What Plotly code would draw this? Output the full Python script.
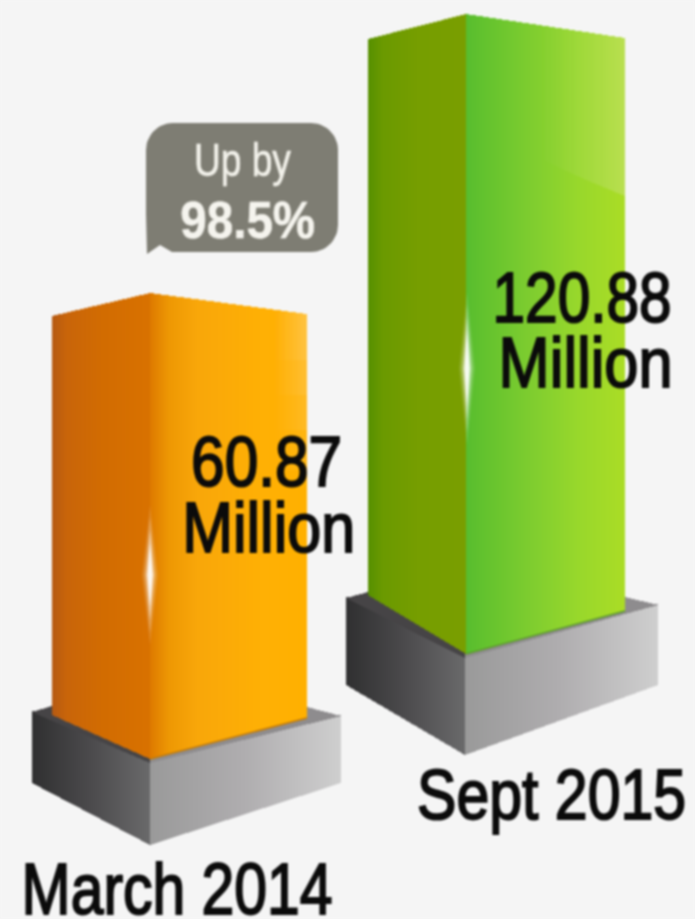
import json
import numpy as np
import plotly.graph_objects as go

# ---- data ----
periods = ["March 2014", "Sept 2015"]
subscribers_million = [60.87, 120.88]
growth_label = ["Up by", "98.5%"]
unit_label = "Million"

# ---- canvas / scale ----
W, H = 695, 919
BG = "#f5f5f5"
PX_PER_UNIT = (293 - 14) / (subscribers_million[1] - subscribers_million[0])
def val(py):
    return subscribers_million[0] + (293 - np.asarray(py, float)) / PX_PER_UNIT

# ---- geometry and colour of each column (pixels) ----
columns = [
    dict(xl=52, xa=150, xr=307, drop_l=23, drop_r=21, bot_l=715, bot_a=759, bot_r=718,
         left=[(0, "#b65a12"), (.15, "#c9650a"), (.5, "#d26c02"), (1, "#d97200")],
         right=[(0, "#de7a00"), (.12, "#ee9804"), (.3, "#f9a70a"), (.7, "#ffb005"), (1, "#ffb000")],
         ped=dict(xl=32, xa=150, xr=341, top_l=712, top_a=763, top_r=716, bot_l=783, bot_a=845, bot_r=783,
                  back_l=706, back_r=707)),
    dict(xl=368, xa=466, xr=625, drop_l=25, drop_r=24, bot_l=595, bot_a=654, bot_r=611,
         left=[(0, "#569000"), (.15, "#6b9a00"), (.5, "#769e00"), (1, "#7a9f00")],
         right=[(0, "#58bd2e"), (.1, "#62c22e"), (.4, "#7ecd30"), (.7, "#98d82c"), (1, "#abdd26")],
         ped=dict(xl=346, xa=465, xr=658, top_l=598, top_a=658, top_r=605, bot_l=685, bot_a=755, bot_r=685,
                  back_l=592, back_r=597)),
]

def hex2rgb(h):
    return np.array([int(h[i:i + 2], 16) for i in (1, 3, 5)], float)

def ramp(stops, t):
    ts = [s[0] for s in stops]
    cs = np.array([hex2rgb(s[1]) for s in stops])
    return ["rgb(%d,%d,%d)" % tuple(np.interp(u, ts, cs[:, k]) for k in range(3)) for u in t]

def slices(xs, tops, bots, color, opacity=None):
    marker = dict(color=color, line=dict(width=0))
    if opacity is not None:
        marker["opacity"] = opacity
    return go.Bar(x=xs, y=val(tops) - val(bots), base=val(bots), width=1.0, marker=marker,
                  hoverinfo="skip", showlegend=False)

def face(x0, x1, top0, top1, bot0, bot1, stops):
    xs = np.arange(x0, x1) + 0.5
    t = (xs - x0) / (x1 - x0)
    return slices(xs, top0 + (top1 - top0) * t, bot0 + (bot1 - bot0) * t, ramp(stops, t))

def poly(xs, ys, color, opacity=1.0):
    return go.Scatter(x=xs, y=val(ys), mode="lines", fill="toself", fillcolor=color,
                      line=dict(width=0), opacity=opacity, hoverinfo="skip", showlegend=False)

fig = go.Figure()

for value, c in zip(subscribers_million, columns):
    p = c["ped"]
    top_px = 293 - (value - subscribers_million[0]) * PX_PER_UNIT
    # plinth: upper surface (hidden part runs behind the column), then both visible sides
    xs = np.arange(p["xl"], p["xa"]) + 0.5
    fig.add_trace(slices(xs, np.interp(xs, [p["xl"], c["xl"], c["xa"]], [p["top_l"], p["back_l"], c["bot_a"] - 60]),
                         np.interp(xs, [p["xl"], p["xa"]], [p["top_l"], p["top_a"]]), "#464446"))
    xs = np.arange(p["xa"], p["xr"]) + 0.5
    fig.add_trace(slices(xs, np.interp(xs, [p["xa"], c["xr"], p["xr"]], [c["bot_a"] - 60, p["back_r"], p["top_r"]]),
                         np.interp(xs, [p["xa"], p["xr"]], [p["top_a"], p["top_r"]]), "#8e8c8e"))
    fig.add_trace(face(p["xl"], p["xa"], p["top_l"], p["top_a"], p["bot_l"], p["bot_a"],
                       [(0, "#303031"), (.5, "#4c4b4d"), (1, "#6a6a6b")]))
    fig.add_trace(face(p["xa"], p["xr"], p["top_a"], p["top_r"], p["bot_a"], p["bot_r"],
                       [(0, "#9a9a9a"), (.5, "#b0aeb0"), (1, "#cfcfcf")]))
    # column: two faces, top edge falls away from the front corner
    fig.add_trace(face(c["xl"], c["xa"], top_px + c["drop_l"], top_px, c["bot_l"], c["bot_a"], c["left"]))
    fig.add_trace(face(c["xa"], c["xr"], top_px, top_px + c["drop_r"], c["bot_a"], c["bot_r"], c["right"]))

# seam along the foot of each column
for c, col in zip(columns, ["#c27a08", "#5d9a2c"]):
    fig.add_trace(go.Scatter(x=[c["xa"], c["xr"]], y=val([c["bot_a"], c["bot_r"]]),
                             mode="lines", line=dict(color=col, width=1.5),
                             hoverinfo="skip", showlegend=False))

# glossy sheen on the upper right of the columns
g = columns[1]
xs = np.arange(545, g["xr"]) + 0.5
t = (xs - 545) / (g["xr"] - 545)
fig.add_trace(slices(xs, 14 + g["drop_r"] * (xs - g["xa"]) / (g["xr"] - g["xa"]), 160 + 36 * t ** 0.9,
                     "#e8e8d8", 0.02 + 0.22 * t ** 1.4))
o = columns[0]
for end in (360, 395, 430, 470):
    xs = np.arange(272, o["xr"]) + 0.5
    t = (xs - 272) / (o["xr"] - 272)
    fig.add_trace(slices(xs, 293 + o["drop_r"] * (xs - o["xa"]) / (o["xr"] - o["xa"]), np.full_like(xs, end),
                         "white", 0.07 * t))

# white glints on the front corners
for cx, y0, y1 in [(150, 505, 645), (467, 292, 445)]:
    ym = (y0 + y1) / 2
    for hw, shrink, op in [(8, 0, .12), (6, 12, .22), (4, 25, .45), (2.5, 38, .85)]:
        fig.add_trace(poly([cx, cx + hw, cx, cx - hw, cx],
                           [y0 + shrink, ym, y1 - shrink, ym, y0 + shrink], "white", op))

# speech bubble
def arc(cx, cy, r, a0, a1, n=14):
    a = np.radians(np.linspace(a0, a1, n))
    return cx + r * np.cos(a), cy + r * np.sin(a)
bl, bt, br, bb, r = 146, 123, 338, 252, 27
a1, a2, a3 = arc(br - r, bt + r, r, -90, 0), arc(br - r, bb - r, r, 0, 90), arc(bl + r, bt + r, r, 180, 270)
bx = np.concatenate([a1[0], a2[0], [172, 160, 147, 146], a3[0]])
by = np.concatenate([a1[1], a2[1], [252, 245, 254, 214], a3[1]])
fig.add_trace(poly(bx, by, "#7e7d73"))

# labels: text, centre x, centre y, font size, drawn width, outline weight, colour, font weight
label_widths, label_strokes = [], []
def label(text, cx, cy, size, width, stroke=2.0, color="#0b0b0b", weight=400):
    label_widths.append(width)
    label_strokes.append(stroke)
    fig.add_annotation(x=cx, y=val(cy), text=text, showarrow=False, xanchor="center", yanchor="middle",
                       font=dict(family="Liberation Sans, sans-serif", size=size, color=color, weight=weight))

label(f"{subscribers_million[0]:.2f}", 266, 462, 70, 151)
label(unit_label, 268, 527, 71, 173)
label(f"{subscribers_million[1]:.2f}", 582, 298, 70, 179)
label(unit_label, 585, 362, 71, 174)
label(periods[0], 177, 889, 72, 311)
label(periods[1], 551, 795, 70, 269)
label(growth_label[0], 242, 159, 47, 97, 0.6, "#f2f1ea")
label(growth_label[1], 247, 220, 52, 135, 0.6, "#f5f4ee", 700)

fig.update_layout(
    width=W, height=H, margin=dict(l=0, r=0, t=0, b=0), autosize=False,
    paper_bgcolor=BG, plot_bgcolor=BG, barmode="overlay", bargap=0, showlegend=False,
    xaxis=dict(range=[0, W], visible=False, fixedrange=True),
    yaxis=dict(range=[float(val(H)), float(val(0))], visible=False, fixedrange=True),
)

# no page margin, condensed heavier letterforms of the original, and its soft focus
post = """
document.documentElement.style.background='%s';
document.body.style.margin='0';
document.body.style.overflow='hidden';
var w=%s, s=%s;
document.querySelectorAll('.annotation-text').forEach(function(t,i){
  var cx=parseFloat(t.getAttribute('x'))||0, k=w[i]/t.getComputedTextLength();
  t.setAttribute('transform','translate('+cx+' 0) scale('+k+' 1) translate('+(-cx)+' 0)');
  t.style.stroke=t.style.fill;
  t.style.strokeWidth=s[i]+'px';
});
document.querySelector('.plot-container').style.filter='blur(0.8px)';
""" % (BG, json.dumps(label_widths), json.dumps(label_strokes))
fig.write_html("out.html", config={"displayModeBar": False}, post_script=post)
